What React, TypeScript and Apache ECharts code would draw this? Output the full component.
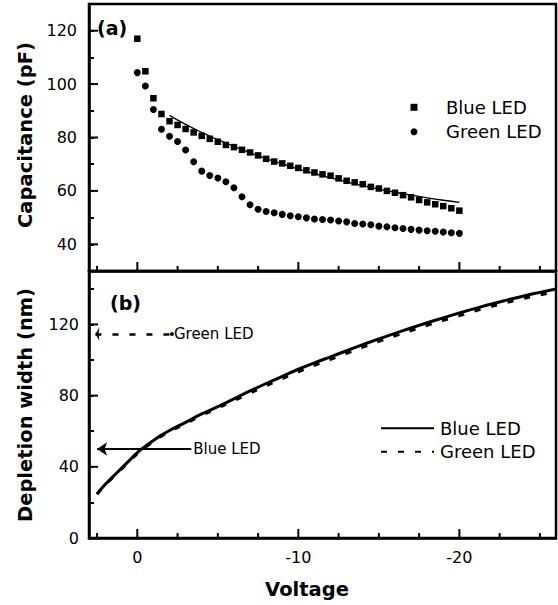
import React, { useEffect, useRef } from 'react';
import * as echarts from 'echarts';

// ---- Panel (a): capacitance vs voltage ----
const voltageC = [0, -0.5, -1, -1.5, -2, -2.5, -3, -3.5, -4, -4.5, -5, -5.5, -6, -6.5, -7, -7.5, -8, -8.5, -9, -9.5, -10, -10.5, -11, -11.5, -12, -12.5, -13, -13.5, -14, -14.5, -15, -15.5, -16, -16.5, -17, -17.5, -18, -18.5, -19, -19.5, -20];
const blueC = [117.0, 104.8, 94.7, 88.8, 86.1, 84.7, 83.2, 81.9, 80.6, 79.5, 78.4, 77.2, 76.4, 75.4, 74.4, 73.3, 72.0, 71.0, 70.3, 69.4, 68.6, 67.7, 66.9, 66.2, 65.7, 64.7, 63.8, 63.2, 62.5, 61.5, 60.9, 60.0, 59.3, 58.4, 57.6, 56.6, 55.7, 55.0, 54.3, 53.5, 52.6];
const greenC = [104.3, 99.3, 90.5, 83.1, 80.5, 78.5, 75.3, 70.9, 67.4, 65.8, 64.8, 63.4, 61.2, 57.8, 54.8, 53.1, 52.3, 51.8, 51.2, 50.7, 50.3, 49.9, 49.5, 49.3, 49.1, 48.7, 48.4, 47.8, 47.6, 47.3, 46.8, 46.6, 46.2, 45.9, 45.6, 45.3, 45.1, 44.9, 44.6, 44.3, 44.1];
const fitV = [-2, -3, -4, -5, -6, -7, -8, -9, -10, -11, -12, -13, -14, -15, -16, -17, -18, -19, -20];
const fitC = [88.3, 84.9, 81.9, 79.2, 76.7, 74.3, 72.1, 70.1, 68.2, 66.5, 64.9, 63.4, 62.0, 60.7, 59.5, 58.4, 57.4, 56.5, 55.7];

// ---- Panel (b): depletion width vs voltage ----
const voltageW = [2.5, 2, 1.5, 1, 0.5, 0, -0.5, -1, -1.5, -2, -3, -4, -5, -6, -7, -8, -9, -10, -11, -12, -13, -14, -15, -16, -17, -18, -19, -20, -21, -22, -23, -24, -25, -26];
const blueW = [24.8, 30.0, 34.6, 39.0, 43.5, 48.0, 51.5, 54.8, 57.8, 60.4, 65.0, 69.7, 73.8, 78.2, 82.6, 86.8, 90.8, 94.8, 98.4, 101.8, 105.2, 108.6, 111.9, 115.0, 118.0, 120.9, 123.7, 126.4, 129.0, 131.5, 133.8, 136.0, 138.0, 139.9];
const greenW = [24.6, 29.7, 34.2, 38.6, 43.0, 47.4, 50.9, 54.2, 57.2, 59.8, 64.3, 68.9, 73.0, 77.2, 81.4, 85.5, 89.5, 93.4, 97.0, 100.4, 103.8, 107.2, 110.5, 113.6, 116.6, 119.5, 122.3, 124.9, 127.6, 130.1, 132.4, 134.6, 136.6, 138.5];

// annotation arrows (voltage start, voltage end, width level)
const greenArrow = [2.6, -2.15, 114.6];
const blueArrow = [2.5, -3.35, 50];

// ---- ticks ----
const xMajorTicks = [0, -10, -20];
const xMinorTicks = [2.5, -2.5, -5, -7.5, -12.5, -15, -17.5, -22.5, -25];
const capMajor = [40, 60, 80, 100, 120];
const capMinor = [50, 70, 90, 110];
const wMajor = [0, 40, 80, 120];
const wMinor = [20, 60, 100, 140];

const FONT = 'DejaVu Sans';
const X_MIN = -26;
const X_MAX = 3;
const C_MIN = 30;
const C_MAX = 130;
const C_STEP = 10;
const W_MIN = 0;
const W_MAX = 150;
const W_STEP = 20;

// layout (px)
const GRID_LEFT = 89;
const GRID_TOP = 4;
const GRID_W = 467;
const GRID_H = 267;
const TICK_MAJOR = 9;
const TICK_MINOR = 5;
const TICK_W = 2;

function mkX(gridIndex: number, labels: boolean) {
  return {
    type: 'value',
    gridIndex,
    position: 'bottom',
    min: X_MIN,
    max: X_MAX,
    inverse: true,
    axisLine: { show: true, onZero: false, lineStyle: { color: '#000', width: 2.5 } },
    axisTick: { show: false },
    axisLabel: {
      show: labels,
      customValues: xMajorTicks,
      margin: 11,
      color: '#000',
      fontSize: 16,
      fontFamily: FONT,
    },
    splitLine: { show: false },
  };
}

function mkY(gridIndex: number, min: number, max: number, step: number, labels: number[], margin: number) {
  return {
    type: 'value',
    gridIndex,
    position: 'left',
    min,
    max,
    interval: step,
    axisLine: { show: true, onZero: false, lineStyle: { color: '#000', width: 2.5 } },
    axisTick: { show: true, inside: true, length: TICK_MINOR, lineStyle: { color: '#000', width: TICK_W } },
    axisLabel: {
      show: true,
      customValues: labels,
      margin,
      color: '#000',
      fontSize: 16,
      fontFamily: FONT,
    },
    splitLine: { show: false },
  };
}

// same linear mapping as the axes (x inverted: X_MAX at the left edge)
const xPix = (v: number) => GRID_LEFT + ((X_MAX - v) / (X_MAX - X_MIN)) * GRID_W;
const yPix = (grid: number, v: number) => {
  const top = GRID_TOP + grid * GRID_H;
  const lo = grid === 0 ? C_MIN : W_MIN;
  const hi = grid === 0 ? C_MAX : W_MAX;
  return top + GRID_H - ((v - lo) / (hi - lo)) * GRID_H;
};

function tickRects(): any[] {
  const out: any[] = [];
  const xt = (grid: number, values: number[], len: number) =>
    values.forEach((v) => {
      const x = xPix(v);
      const y = GRID_TOP + (grid + 1) * GRID_H;
      out.push({ type: 'rect', z: 100, silent: true, shape: { x: x - TICK_W / 2, y: y - len, width: TICK_W, height: len }, style: { fill: '#000' } });
    });
  const yt = (grid: number, values: number[], len: number) =>
    values.forEach((v) => {
      const y = yPix(grid, v);
      out.push({ type: 'rect', z: 100, silent: true, shape: { x: GRID_LEFT, y: y - TICK_W / 2, width: len, height: TICK_W }, style: { fill: '#000' } });
    });
  xt(0, xMajorTicks, TICK_MAJOR);
  xt(0, xMinorTicks, TICK_MINOR);
  yt(0, capMajor, TICK_MAJOR);
  xt(1, xMajorTicks, TICK_MAJOR);
  xt(1, xMinorTicks, TICK_MINOR);
  yt(1, wMajor.filter((v) => v > W_MIN), TICK_MAJOR);
  return out;
}

const legendFormatter = (name: string) => name.replace(/ \([CW]\)$/, '');

const textGraphics: any[] = [
  {
    type: 'text',
    x: 97,
    y: 28,
    style: { text: '(a)', fontSize: 19, fontWeight: 'bold', fontFamily: FONT, fill: '#000', align: 'left', verticalAlign: 'middle' },
  },
  {
    type: 'text',
    x: 110,
    y: 303,
    style: { text: '(b)', fontSize: 19, fontWeight: 'bold', fontFamily: FONT, fill: '#000', align: 'left', verticalAlign: 'middle' },
  },
  {
    type: 'text',
    x: 25,
    y: 135,
    rotation: Math.PI / 2,
    style: { text: 'Capacitance (pF)', fontSize: 19.5, fontWeight: 900, fontFamily: FONT, fill: '#000', align: 'center', verticalAlign: 'middle' },
  },
  {
    type: 'text',
    x: 25,
    y: 405,
    rotation: Math.PI / 2,
    style: { text: 'Depletion width (nm)', fontSize: 19.5, fontWeight: 900, fontFamily: FONT, fill: '#000', align: 'center', verticalAlign: 'middle' },
  },
  {
    type: 'text',
    x: 307,
    y: 589,
    style: { text: 'Voltage', fontSize: 19.5, fontWeight: 900, fontFamily: FONT, fill: '#000', align: 'center', verticalAlign: 'middle' },
  },
];

export default function App() {
  const ref = useRef<HTMLDivElement>(null);
  useEffect(() => {
    if (!ref.current) return;
    const chart = echarts.init(ref.current, undefined, { renderer: 'svg' });
    const option: any = {
      animation: false,
      backgroundColor: '#fff',
      grid: [
        { left: GRID_LEFT, top: GRID_TOP, width: GRID_W, height: GRID_H, show: true, borderColor: '#000', borderWidth: 2.5, backgroundColor: 'transparent' },
        { left: GRID_LEFT, top: GRID_TOP + GRID_H, width: GRID_W, height: GRID_H, show: true, borderColor: '#000', borderWidth: 2.5, backgroundColor: 'transparent' },
      ],
      xAxis: [mkX(0, false), mkX(1, true)],
      yAxis: [mkY(0, C_MIN, C_MAX, C_STEP, capMajor, 12), mkY(1, W_MIN, W_MAX, W_STEP, wMajor, 10)],
      legend: [
        {
          orient: 'vertical',
          left: 410.5,
          top: 98.3,
          padding: 0,
          itemWidth: 7,
          itemHeight: 7,
          itemGap: 6.4,
          selectedMode: false,
          formatter: legendFormatter,
          data: [
            { name: 'Blue LED (C)', icon: 'rect' },
            { name: 'Green LED (C)', icon: 'circle' },
          ],
          itemStyle: { opacity: 1 },
          textStyle: { fontSize: 18, fontFamily: FONT, color: '#000', padding: [0, 0, 0, 23.5] },
        },
        {
          orient: 'vertical',
          left: 380,
          top: 419.3,
          padding: 0,
          itemWidth: 53,
          itemHeight: 14,
          itemGap: 5.4,
          selectedMode: false,
          formatter: legendFormatter,
          data: ['Blue LED (W)', 'Green LED (W)'],
          itemStyle: { opacity: 0 },
          textStyle: { fontSize: 18, fontFamily: FONT, color: '#000', padding: [0, 0, 0, 1] },
        },
      ],
      series: [
        {
          name: 'Blue LED (C)',
          type: 'scatter',
          xAxisIndex: 0,
          yAxisIndex: 0,
          symbol: 'rect',
          symbolSize: 6.5,
          itemStyle: { color: '#000', opacity: 1 },
          data: voltageC.map((v, i) => [v, blueC[i]]),
        },
        {
          name: 'Green LED (C)',
          type: 'scatter',
          xAxisIndex: 0,
          yAxisIndex: 0,
          symbol: 'circle',
          symbolSize: 7,
          itemStyle: { color: '#000', opacity: 1 },
          data: voltageC.map((v, i) => [v, greenC[i]]),
        },
        {
          name: 'fit',
          type: 'line',
          xAxisIndex: 0,
          yAxisIndex: 0,
          symbol: 'none',
          smooth: true,
          lineStyle: { color: '#000', width: 1.3 },
          data: fitV.map((v, i) => [v, fitC[i]]),
        },
        {
          name: 'Blue LED (W)',
          type: 'line',
          xAxisIndex: 1,
          yAxisIndex: 1,
          symbol: 'none',
          smooth: true,
          color: '#000',
          lineStyle: { color: '#000', width: 3 },
          data: voltageW.map((v, i) => [v, blueW[i]]),
          markLine: {
            silent: true,
            symbol: ['arrow', 'none'],
            symbolSize: 10,
            lineStyle: { color: '#000', width: 2, type: 'solid' },
            label: {
              show: true,
              position: 'end',
              distance: 2,
              formatter: 'Blue LED',
              color: '#000',
              fontSize: 15,
              fontFamily: FONT,
            },
            emphasis: { disabled: true },
            data: [[{ coord: [blueArrow[0], blueArrow[2]] }, { coord: [blueArrow[1], blueArrow[2]] }]],
          },
        },
        {
          name: 'Green LED (W)',
          type: 'line',
          xAxisIndex: 1,
          yAxisIndex: 1,
          symbol: 'none',
          smooth: true,
          color: '#000',
          lineStyle: { color: '#000', width: 3, type: [6, 11] },
          data: voltageW.map((v, i) => [v, greenW[i]]),
          markLine: {
            silent: true,
            symbol: ['arrow', 'circle'],
            symbolSize: [10, 4],
            lineStyle: { color: '#000', width: 2.5, type: [6, 11] },
            label: {
              show: true,
              position: 'end',
              distance: 2,
              formatter: 'Green LED',
              color: '#000',
              fontSize: 15,
              fontFamily: FONT,
            },
            emphasis: { disabled: true },
            data: [[{ coord: [greenArrow[0], greenArrow[2]] }, { coord: [greenArrow[1], greenArrow[2]] }]],
          },
        },
      ],
      graphic: [...textGraphics, ...tickRects()],
    };
    chart.setOption(option);
    return () => chart.dispose();
  }, []);
  return <div ref={ref} style={{ position: 'fixed', left: 0, top: 0, width: 558, height: 605 }} />;
}
